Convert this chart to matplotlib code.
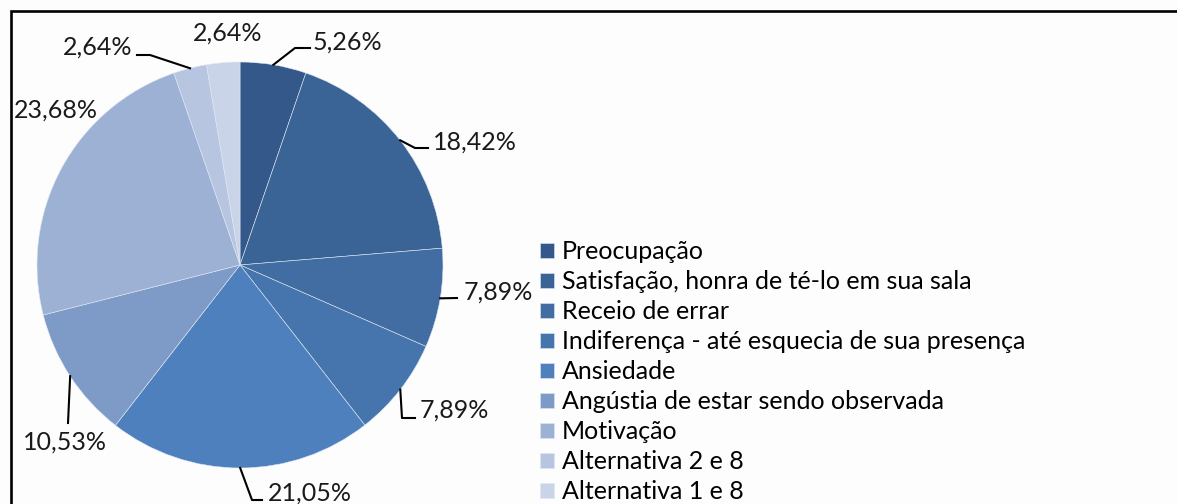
import numpy as np
import matplotlib.pyplot as plt

# dados
categorias = ['Preocupação',
              'Satisfação, honra de té-lo em sua sala',
              'Receio de errar',
              'Indiferença - até esquecia de sua presença',
              'Ansiedade',
              'Angústia de estar sendo observada',
              'Motivação',
              'Alternativa 2 e 8',
              'Alternativa 1 e 8']
percentuais = [5.26, 18.42, 7.89, 7.89, 21.05, 10.53, 23.68, 2.64, 2.64]
cores = ['#34588A', '#3B6496', '#416DA3', '#4674AC', '#4E80BD',
         '#7E9BC8', '#9DB1D4', '#B7C5E1', '#CAD4E8']

W, H = 1177, 504
plt.rcParams['font.family'] = ['Lato', 'DejaVu Sans']
fs = 18

fig = plt.figure(figsize=(W/100, H/100), dpi=100, facecolor='#fdfdfd')
ax = fig.add_axes([0, 0, 1, 1])
cx, cy, R = 240, H-265, 203
wedges, _ = ax.pie(percentuais, colors=cores, startangle=90, counterclock=False,
                   center=(cx, cy), radius=R,
                   wedgeprops=dict(edgecolor='#dfe7f2', linewidth=0.4))
ax.set_xlim(0, W)
ax.set_ylim(0, H)
ax.set_aspect('equal')
ax.axis('off')

# posicao dos rotulos (pixels da imagem, y para baixo): x, y, alinhamento, pontos da linha guia
rotulos = [
    (313, 42, 'left', [(295, 48), (310, 48)]),
    (433, 142, 'left', [(415, 148), (428, 148)]),
    (464, 292, 'left', [(457, 298)]),
    (420, 410, 'left', [(402, 418), (415, 418)]),
    (268, 493, 'left', [(252, 500), (262, 500)]),
    (65, 442, 'center', [(68, 423)]),
    (14, 110, 'left', None),
    (63, 47, 'left', [(150, 55), (137, 55)]),
    (193, 33, 'left', None),
]

for w, v, (tx, ty, ha, guia) in zip(wedges, percentuais, rotulos):
    txt = f'{v:.2f}'.replace('.', ',') + '%'
    ax.text(tx, H-ty, txt, ha=ha, va='center', fontsize=fs, color='#1a1a1a')
    if guia:
        ang = np.radians((w.theta1 + w.theta2) / 2)
        x0, y0 = cx + R*np.cos(ang), cy + R*np.sin(ang)
        xs = [x0] + [p[0] for p in guia]
        ys = [y0] + [H-p[1] for p in guia]
        ax.plot(xs, ys, color='black', lw=1.5)

ax.legend(wedges, categorias, loc='upper left', bbox_to_anchor=(540/W, (H-240)/H),
          frameon=False, fontsize=fs, handlelength=0.56, handleheight=0.56,
          handletextpad=0.32, labelspacing=0.28, borderpad=0, borderaxespad=0)

# moldura (topo e esquerda)
ax.plot([11, 11, W], [0, H-10.5, H-10.5], color='black', lw=1.9, solid_joinstyle='miter')

fig.savefig('out.png', dpi=100, facecolor=fig.get_facecolor())
